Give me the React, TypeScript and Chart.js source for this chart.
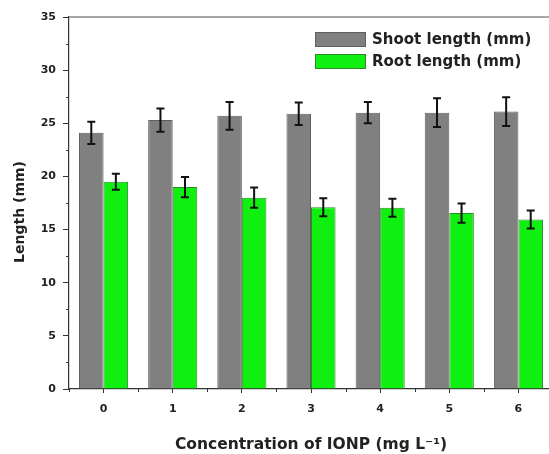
import React, { useEffect, useRef } from "react";
import { Chart, registerables } from "chart.js";

Chart.register(...registerables);

const categories = ["0", "1", "2", "3", "4", "5", "6"];
const shootLength = [24.1, 25.3, 25.7, 25.9, 26.0, 26.0, 26.1];
const shootError = [1.05, 1.1, 1.3, 1.05, 1.0, 1.35, 1.35];
const rootLength = [19.5, 19.0, 18.0, 17.1, 17.05, 16.55, 15.95];
const rootError = [0.75, 0.95, 0.95, 0.85, 0.85, 0.9, 0.85];
const seriesLabels = ["Shoot length (mm)", "Root length (mm)"];
const xTitle = "Concentration of IONP (mg L\u207B\u00B9)";
const yTitle = "Length (mm)";
const yMin = 0;
const yMax = 35;
const yStep = 5;

const FONT = '"DejaVu Sans", Verdana, sans-serif';
const errors = [shootError, rootError];

const extrasPlugin = {
  id: "extras",
  afterDatasetsDraw(chart: any) {
    const ctx = chart.ctx;
    const ys = chart.scales.y;
    const xs = chart.scales.x;
    const area = chart.chartArea;
    ctx.save();
    // error bars
    chart.data.datasets.forEach((ds: any, di: number) => {
      const meta = chart.getDatasetMeta(di);
      meta.data.forEach((el: any, i: number) => {
        const v = ds.data[i];
        const e = errors[di][i];
        const yt = ys.getPixelForValue(v + e);
        const yb = ys.getPixelForValue(v - e);
        const x = el.x;
        ctx.strokeStyle = "#111";
        ctx.lineWidth = 2;
        ctx.beginPath();
        ctx.moveTo(x, yt);
        ctx.lineTo(x, yb);
        ctx.moveTo(x - 4, yt);
        ctx.lineTo(x + 4, yt);
        ctx.moveTo(x - 4, yb);
        ctx.lineTo(x + 4, yb);
        ctx.stroke();
      });
    });
    // top frame line
    ctx.strokeStyle = "#8a8a8a";
    ctx.lineWidth = 1.5;
    ctx.beginPath();
    ctx.moveTo(area.left, area.top);
    ctx.lineTo(chart.width, area.top);
    ctx.stroke();
    // minor ticks y
    ctx.strokeStyle = "#333";
    ctx.lineWidth = 1;
    ctx.beginPath();
    for (let v = yMin + yStep / 2; v < yMax; v += yStep) {
      const y = Math.round(ys.getPixelForValue(v)) + 0.5;
      ctx.moveTo(area.left - 3, y);
      ctx.lineTo(area.left, y);
    }
    // minor ticks x (category boundaries)
    for (let i = 0; i <= categories.length; i++) {
      const x = Math.round(xs.getPixelForValue(i - 0.5)) + 0.5;
      ctx.moveTo(x, area.bottom);
      ctx.lineTo(x, area.bottom + 3);
    }
    ctx.stroke();
    // legend
    const colors = [
      ["#808080", "#5e5e5e"],
      ["#10f010", "#2a8a2a"],
    ];
    const boxX = 315;
    const boxW = 51;
    const boxH = 15;
    const rowsY = [32, 54];
    ctx.font = `bold 15px ${FONT}`;
    ctx.textBaseline = "middle";
    ctx.textAlign = "left";
    seriesLabels.forEach((lab, i) => {
      ctx.fillStyle = colors[i][0];
      ctx.fillRect(boxX, rowsY[i], boxW, boxH);
      ctx.strokeStyle = colors[i][1];
      ctx.lineWidth = 1;
      ctx.strokeRect(boxX + 0.5, rowsY[i] + 0.5, boxW - 1, boxH - 1);
      ctx.fillStyle = "#222";
      ctx.fillText(lab, boxX + boxW + 6, rowsY[i] + boxH / 2 + 1);
    });
    // y title
    ctx.save();
    ctx.translate(20, 212);
    ctx.rotate(-Math.PI / 2);
    ctx.font = `bold 14px ${FONT}`;
    ctx.textAlign = "center";
    ctx.textBaseline = "middle";
    ctx.fillStyle = "#222";
    ctx.fillText(yTitle, 0, 0);
    ctx.restore();
    ctx.restore();
  },
};

export default function App() {
  const ref = useRef<HTMLCanvasElement>(null);
  useEffect(() => {
    const canvas = ref.current;
    if (!canvas) return;
    const chart = new Chart(canvas, {
      type: "bar",
      data: {
        labels: categories,
        datasets: [
          {
            label: seriesLabels[0],
            data: shootLength,
            backgroundColor: "#808080",
            borderColor: "#5e5e5e",
            borderWidth: 1,
            categoryPercentage: 0.71,
            barPercentage: 1,
          },
          {
            label: seriesLabels[1],
            data: rootLength,
            backgroundColor: "#10f010",
            borderColor: "#2a8a2a",
            borderWidth: 1,
            categoryPercentage: 0.71,
            barPercentage: 1,
          },
        ],
      },
      options: {
        responsive: false,
        animation: false,
        devicePixelRatio: 1,
        layout: { padding: { top: 17, left: 0, right: 0, bottom: 0 } },
        plugins: {
          legend: { display: false },
          tooltip: { enabled: false },
        },
        scales: {
          x: {
            offset: true,
            grid: {
              display: true,
              drawOnChartArea: false,
              drawTicks: true,
              tickLength: 4,
              offset: false,
              color: "#333",
            },
            border: { display: true, color: "#333", width: 1.2 },
            ticks: {
              color: "#222",
              font: { family: FONT, size: 11, weight: "bold" },
              padding: 10,
              maxRotation: 0,
            },
            title: {
              display: true,
              text: xTitle,
              color: "#222",
              font: { family: FONT, size: 15.5, weight: "bold" },
              padding: { top: 0, bottom: 0 },
            },
            afterFit: (s: any) => {
              s.height = 65;
            },
          },
          y: {
            min: yMin,
            max: yMax,
            ticks: {
              stepSize: yStep,
              color: "#222",
              font: { family: FONT, size: 11, weight: "bold" },
              padding: 7,
            },
            grid: {
              display: true,
              drawOnChartArea: false,
              drawTicks: true,
              tickLength: 6,
              color: "#333",
            },
            border: { display: true, color: "#333", width: 1.2 },
            afterFit: (s: any) => {
              s.width = 69;
            },
          },
        },
      },
      plugins: [extrasPlugin],
    });
    return () => chart.destroy();
  }, []);
  return (
    <div
      style={{
        position: "absolute",
        left: 0,
        top: 0,
        width: 549,
        height: 454,
        overflow: "hidden",
        background: "#fff",
      }}
    >
      <canvas ref={ref} width={553} height={454} style={{ display: "block" }} />
    </div>
  );
}
